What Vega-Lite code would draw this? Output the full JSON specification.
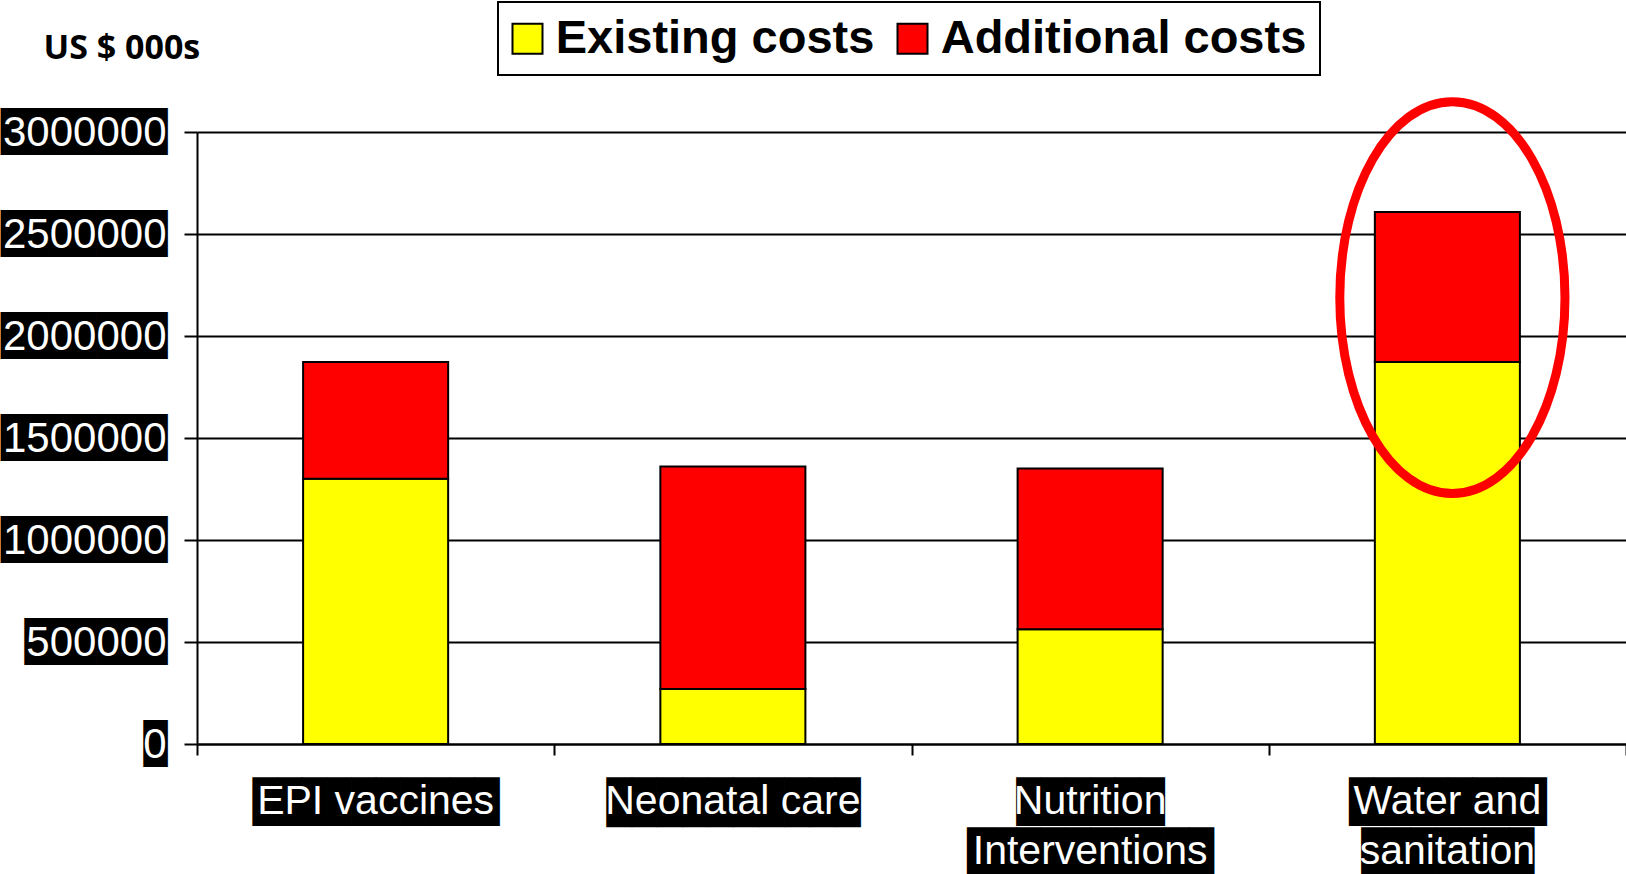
{
  "$schema": "https://vega.github.io/schema/vega-lite/v6.json",
  "width": 1429,
  "height": 612,
  "autosize": {"type": "none"},
  "padding": {"left": 197, "top": 132, "right": 0, "bottom": 130},
  "background": "white",
  "config": {
    "view": {"stroke": null},
    "font": "Liberation Sans",
    "legend": {"strokeColor": "black", "strokeWidth": 2}
  },
  "datasets": {
    "costs": [
      {"programme": "EPI vaccines", "type": "Existing costs", "cost": 1300000},
      {"programme": "EPI vaccines", "type": "Additional costs", "cost": 572000},
      {"programme": "Neonatal care", "type": "Existing costs", "cost": 270000},
      {"programme": "Neonatal care", "type": "Additional costs", "cost": 1090000},
      {"programme": "Nutrition Interventions", "type": "Existing costs", "cost": 563000},
      {"programme": "Nutrition Interventions", "type": "Additional costs", "cost": 787000},
      {"programme": "Water and sanitation", "type": "Existing costs", "cost": 1872000},
      {"programme": "Water and sanitation", "type": "Additional costs", "cost": 736000}
    ],
    "highlight": [
      {"programme": "Water and sanitation", "centre": 2188000}
    ]
  },
  "layer": [
    {
      "data": {"name": "costs"},
      "mark": {"type": "bar", "width": {"band": 0.406}, "stroke": "black", "strokeWidth": 2},
      "encoding": {
        "x": {
          "field": "programme",
          "type": "nominal",
          "sort": ["EPI vaccines", "Neonatal care", "Nutrition Interventions", "Water and sanitation"],
          "scale": {"type": "band", "paddingInner": 0, "paddingOuter": 0},
          "axis": {
            "orient": "bottom",
            "title": null,
            "tickBand": "extent",
            "ticks": true,
            "tickSize": 11,
            "tickColor": "black",
            "tickWidth": 2,
            "domain": true,
            "domainColor": "black",
            "domainWidth": 2,
            "grid": false,
            "labelAngle": 0,
            "labelFont": "DejaVu Sans Mono",
            "labelFontSize": {"condition": {"test": "datum.value == 'Neonatal care'", "value": 42.2}, "value": 41},
            "labelColor": "black",
            "labelPadding": 28,
            "labelLineHeight": 50,
            "labelLimit": 0,
            "labelExpr": "datum.value == 'EPI vaccines' ? '\u2588\u2588\u2588\u2588\u2588\u2588\u2588\u2588\u2588\u2588' : datum.value == 'Neonatal care' ? '\u2588\u2588\u2588\u2588\u2588\u2588\u2588\u2588\u2588\u2588' : datum.value == 'Nutrition Interventions' ? ['\u2588\u2588\u2588\u2588\u2588\u2588', '\u2588\u2588\u2588\u2588\u2588\u2588\u2588\u2588\u2588\u2588'] : datum.value == 'Water and sanitation' ? ['\u2588\u2588\u2588\u2588\u2588\u2588\u2588\u2588', '\u2588\u2588\u2588\u2588\u2588\u2588\u2588'] : ''"
          }
        },
        "y": {
          "field": "cost",
          "type": "quantitative",
          "stack": "zero",
          "scale": {"domain": [0, 3000000], "nice": false, "zero": true},
          "axis": {
            "orient": "left",
            "values": [0, 500000, 1000000, 1500000, 2000000, 2500000, 3000000],
            "grid": true,
            "gridColor": "black",
            "gridWidth": 2,
            "gridOpacity": 1,
            "domain": true,
            "domainColor": "black",
            "domainWidth": 2,
            "ticks": true,
            "tickSize": 13,
            "tickColor": "black",
            "tickWidth": 2,
            "labelPadding": 17,
            "labelFont": "DejaVu Sans Mono",
            "labelFontSize": 39.5,
            "labelColor": "black",
            "labelAlign": "right",
            "labelBaseline": "middle",
            "labelOverlap": false,
            "labelLimit": 0,
            "labelExpr": "datum.value >= 1000000 ? '\u2588\u2588\u2588\u2588\u2588\u2588\u2588' : datum.value >= 100000 ? '\u2588\u2588\u2588\u2588\u2588\u2588' : '\u2588'",
            "title": "US $ 000s",
            "titleAngle": 0,
            "titleX": -154,
            "titleY": -74,
            "titleAlign": "left",
            "titleBaseline": "alphabetic",
            "titleFont": "Open Sans",
            "titleFontSize": 34,
            "titleFontWeight": "bold",
            "titleColor": "black"
          }
        },
        "color": {
          "field": "type",
          "type": "nominal",
          "sort": ["Existing costs", "Additional costs"],
          "scale": {"domain": ["Existing costs", "Additional costs"], "range": ["#FFFF00", "#FF0000"]},
          "legend": {
            "orient": "none",
            "legendX": 301,
            "legendY": -130,
            "direction": "horizontal",
            "title": null,
            "symbolType": "square",
            "symbolSize": 900,
            "symbolStrokeColor": "black",
            "symbolStrokeWidth": 2,
            "symbolOpacity": 1,
            "symbolOffset": -7,
            "labelFont": "Liberation Sans",
            "labelFontSize": 47,
            "labelFontWeight": "bold",
            "labelColor": "black",
            "labelOffset": 4.7,
            "labelLimit": 0,
            "columnPadding": 18,
            "padding": 13,
            "strokeColor": "black",
            "fillColor": "white"
          }
        },
        "order": {"field": "type", "sort": "descending"}
      }
    },
    {
      "data": {"name": "highlight"},
      "mark": {
        "type": "point",
        "shape": "M 0 -1 A 0.5748 1 0 1 1 0 1 A 0.5748 1 0 1 1 0 -1 Z",
        "size": 153500,
        "filled": false,
        "stroke": "#FF0000",
        "strokeWidth": 9,
        "opacity": 1,
        "xOffset": 5
      },
      "encoding": {
        "x": {
          "field": "programme",
          "type": "nominal",
          "sort": ["EPI vaccines", "Neonatal care", "Nutrition Interventions", "Water and sanitation"],
          "scale": {"type": "band", "paddingInner": 0, "paddingOuter": 0},
          "axis": {
            "orient": "bottom",
            "title": null,
            "ticks": false,
            "tickSize": 0,
            "domain": false,
            "grid": false,
            "labelAngle": 0,
            "labelFont": "Liberation Sans",
            "labelFontSize": 41,
            "labelColor": "white",
            "labelPadding": 37,
            "labelLineHeight": 50,
            "labelLimit": 0,
            "labelExpr": "datum.value == 'Nutrition Interventions' ? ['Nutrition', 'Interventions'] : datum.value == 'Water and sanitation' ? ['Water and', 'sanitation'] : datum.label"
          }
        },
        "y": {
          "field": "centre",
          "type": "quantitative",
          "scale": {"domain": [0, 3000000], "nice": false, "zero": true},
          "axis": {
            "orient": "left",
            "title": null,
            "values": [0, 500000, 1000000, 1500000, 2000000, 2500000, 3000000],
            "grid": false,
            "domain": false,
            "ticks": false,
            "tickSize": 0,
            "labelPadding": 31,
            "labelFont": "Liberation Sans",
            "labelFontSize": 42,
            "labelColor": "white",
            "labelAlign": "right",
            "labelBaseline": "middle",
            "labelOverlap": false,
            "labelLimit": 0,
            "format": "d"
          }
        }
      }
    }
  ],
  "resolve": {"axis": {"x": "independent", "y": "independent"}}
}
